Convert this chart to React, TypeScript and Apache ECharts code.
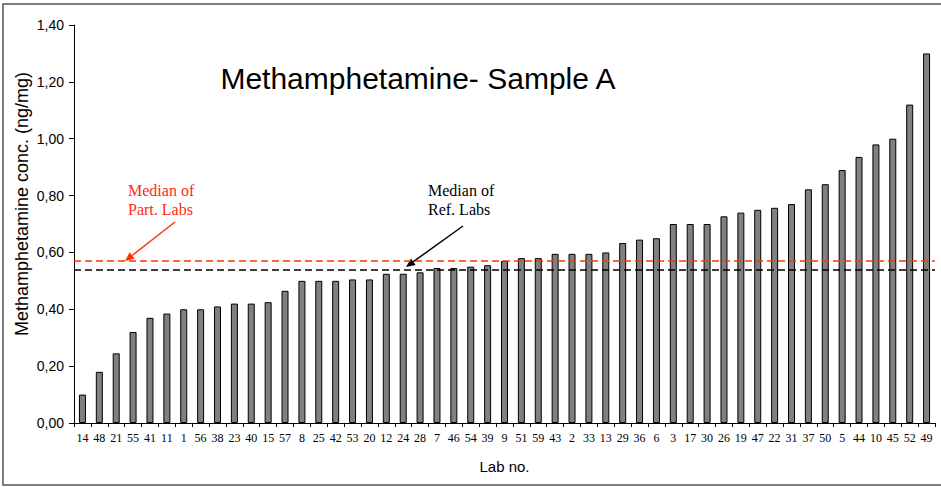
import React, { useEffect, useRef } from "react";
import * as echarts from "echarts";

const labs = ["14","48","21","55","41","11","1","56","38","23","40","15","57","8","25","42","53","20","12","24","28","7","46","54","39","9","51","59","43","2","33","13","29","36","6","3","17","30","26","19","47","22","31","37","50","5","44","10","45","52","49"];
const concentrations = [0.10,0.18,0.245,0.32,0.37,0.385,0.40,0.40,0.41,0.42,0.42,0.425,0.465,0.50,0.50,0.50,0.505,0.505,0.525,0.525,0.53,0.545,0.545,0.55,0.555,0.57,0.58,0.58,0.595,0.595,0.595,0.60,0.633,0.645,0.65,0.70,0.70,0.70,0.727,0.74,0.75,0.757,0.77,0.822,0.84,0.89,0.936,0.98,1.00,1.12,1.30];
const medianPartLabs = 0.57;
const medianRefLabs = 0.535;
const yTicks = { min: 0, max: 1.4, interval: 0.2 };
const yAxisTitle = "Methamphetamine conc. (ng/mg)";

export default function App() {
  const ref = useRef<HTMLDivElement>(null);
  useEffect(() => {
    if (!ref.current) return;
    const chart = echarts.init(ref.current, null, { renderer: "svg" });
    const sans = "Liberation Sans, Arial, sans-serif";
    const serif = "Liberation Serif, Times New Roman, serif";
    chart.setOption({
      animation: false,
      backgroundColor: "#ffffff",
      grid: { left: 74, right: 6, top: 25, bottom: 64 },
      xAxis: {
        type: "category",
        data: labs,
        name: "Lab no.",
        nameLocation: "middle",
        nameGap: 36,
        nameTextStyle: { fontFamily: sans, fontSize: 15, color: "#000" },
        axisLine: { lineStyle: { color: "#000", width: 1 } },
        axisTick: { show: true, length: 4, lineStyle: { color: "#000" } },
        axisLabel: { interval: 0, fontFamily: serif, fontSize: 12, color: "#000", margin: 9 },
      },
      yAxis: {
        type: "value",
        min: yTicks.min,
        max: yTicks.max,
        interval: yTicks.interval,
        axisLine: { show: true, lineStyle: { color: "#000", width: 1 } },
        axisTick: { show: true, length: 5, lineStyle: { color: "#000" } },
        splitLine: { show: false },
        axisLabel: {
          fontFamily: sans,
          fontSize: 14,
          color: "#000",
          margin: 10,
          formatter: (v: number) => v.toFixed(2).replace(".", ","),
        },
      },
      series: [
        {
          type: "bar",
          data: concentrations,
          barWidth: 7,
          itemStyle: { color: "#808080", borderColor: "#000", borderWidth: 1 },
          markLine: {
            silent: true,
            symbol: "none",
            label: { show: false },
            data: [
              { yAxis: medianPartLabs, lineStyle: { color: "#ff3300", type: [7, 4], width: 1.5 } },
              { yAxis: medianRefLabs, lineStyle: { color: "#000000", type: [7, 4], width: 1.5 } },
            ],
          },
        },
      ],
      graphic: [
        {
          type: "rect",
          shape: { x: 3, y: 4, width: 960, height: 481 },
          style: { fill: "none", stroke: "#555", lineWidth: 1.5 },
          silent: true,
        },
        {
          type: "text",
          x: 22,
          y: 204,
          rotation: Math.PI / 2,
          style: {
            text: yAxisTitle,
            fontFamily: sans,
            fontSize: 18,
            fill: "#000",
            align: "center",
            verticalAlign: "middle",
          },
        },
        {
          type: "text",
          x: 418,
          y: 78,
          style: {
            text: "Methamphetamine- Sample A",
            fontFamily: sans,
            fontSize: 30,
            fill: "#000",
            align: "center",
            verticalAlign: "middle",
          },
        },
        {
          type: "text",
          x: 128,
          y: 181,
          style: {
            text: "Median of\nPart. Labs",
            fontFamily: serif,
            fontSize: 16,
            lineHeight: 19,
            fill: "#ff2a10",
            align: "left",
            verticalAlign: "top",
          },
        },
        {
          type: "text",
          x: 428,
          y: 181,
          style: {
            text: "Median of\nRef. Labs",
            fontFamily: serif,
            fontSize: 16,
            lineHeight: 19,
            fill: "#000",
            align: "left",
            verticalAlign: "top",
          },
        },
        {
          type: "line",
          shape: { x1: 175, y1: 222, x2: 132, y2: 255.5 },
          style: { stroke: "#ff3300", lineWidth: 1.5 },
        },
        {
          type: "polygon",
          shape: { points: [[125, 261], [134.6, 258.7], [129.6, 252.3]] },
          style: { fill: "#ff3300" },
        },
        {
          type: "line",
          shape: { x1: 463, y1: 226, x2: 413.3, y2: 261.7 },
          style: { stroke: "#000", lineWidth: 1.5 },
        },
        {
          type: "polygon",
          shape: { points: [[406, 267], [415.6, 264.9], [411.0, 258.5]] },
          style: { fill: "#000" },
        },
      ],
    });
    return () => chart.dispose();
  }, []);
  return (
    <div
      ref={ref}
      style={{ position: "absolute", left: 0, top: 0, width: 941, height: 487, background: "#fff" }}
    />
  );
}
